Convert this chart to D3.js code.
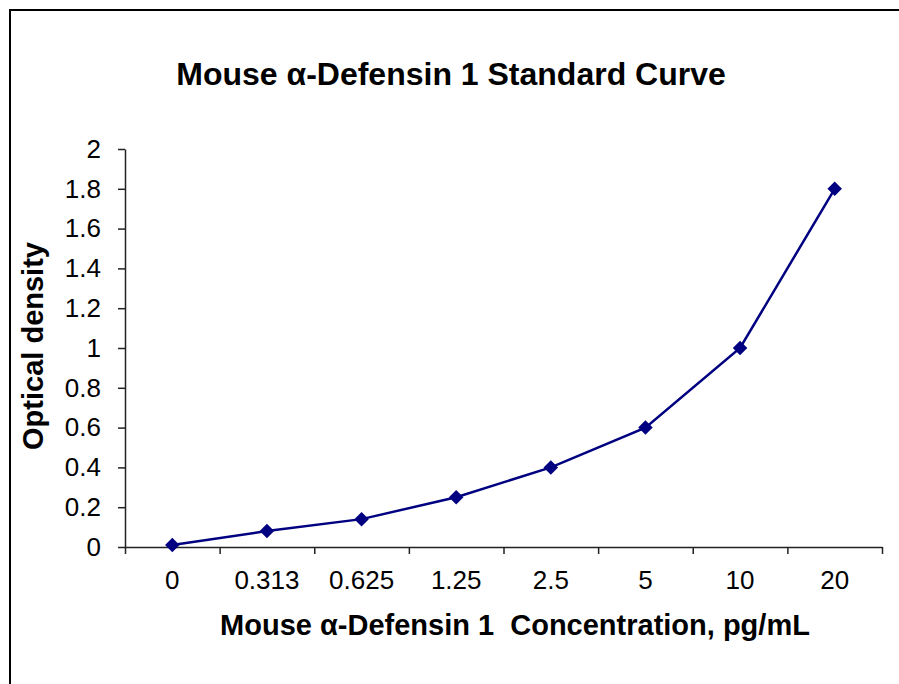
<!DOCTYPE html>
<html>
<head>
<meta charset="utf-8">
<script src="https://cdn.jsdelivr.net/npm/d3@7"></script>
<style>
  body { margin: 0; background: #fff; }
  text { font-family: "Liberation Sans", Arial, sans-serif; }
</style>
</head>
<body>
<div id="chart"></div>
<script>
const width = 899;
const height = 684;

const concentrations = ['0', '0.313', '0.625', '1.25', '2.5', '5', '10', '20'];
const opticalDensity = [0.01, 0.08, 0.14, 0.25, 0.4, 0.6, 1.0, 1.8];
const yTicks = [0, 0.2, 0.4, 0.6, 0.8, 1, 1.2, 1.4, 1.6, 1.8, 2];

const plotLeft = 125, plotRight = 882, plotTop = 149, plotBottom = 547;

const svg = d3.select('#chart')
    .append('svg')
    .attr('width', width)
    .attr('height', height);

// outer frame
svg.append('rect')
    .attr('x', 10)
    .attr('y', 10)
    .attr('width', 950)
    .attr('height', 750)
    .attr('fill', 'none')
    .attr('stroke', '#000')
    .attr('stroke-width', 2);

const xScale = d3.scaleBand()
    .domain(concentrations)
    .range([plotLeft, plotRight]);

const xEdges = d3.scaleLinear()
    .domain([0, concentrations.length])
    .range([plotLeft, plotRight]);

const yScale = d3.scaleLinear()
    .domain([0, 2])
    .range([plotBottom, plotTop]);

// x axis: boundary ticks
const xAxis = svg.append('g')
    .attr('transform', `translate(0, ${plotBottom})`)
    .call(d3.axisBottom(xEdges).tickValues(d3.range(concentrations.length + 1)).tickFormat('').tickSize(7).tickSizeOuter(0));
xAxis.select('.domain').attr('stroke', '#222').attr('stroke-width', 1.5);
xAxis.selectAll('.tick line').attr('stroke', '#222').attr('stroke-width', 1.5);

// x labels
svg.append('g')
    .attr('transform', `translate(0, ${plotBottom})`)
    .call(d3.axisBottom(xScale).tickSize(0).tickPadding(0))
    .call(g => g.select('.domain').remove())
    .selectAll('text')
    .attr('y', 42)
    .attr('dy', 0)
    .attr('fill', '#000')
    .style('font-size', '26px');

// y axis
const yAxis = svg.append('g')
    .attr('transform', `translate(${plotLeft}, 0)`)
    .call(d3.axisLeft(yScale).tickValues(yTicks).tickFormat(d3.format('')).tickSize(7).tickSizeOuter(0).tickPadding(17));
yAxis.select('.domain').attr('stroke', '#222').attr('stroke-width', 1.5);
yAxis.selectAll('.tick line').attr('stroke', '#222').attr('stroke-width', 1.5);
yAxis.selectAll('text')
    .attr('fill', '#000')
    .style('font-size', '26px');

// line
const line = d3.line()
    .x((d, i) => xScale(concentrations[i]) + xScale.bandwidth() / 2)
    .y(d => yScale(d));

svg.append('path')
    .datum(opticalDensity)
    .attr('d', line)
    .attr('fill', 'none')
    .attr('stroke', '#000080')
    .attr('stroke-width', 2.5);

svg.selectAll('.dot')
    .data(opticalDensity)
    .enter()
    .append('path')
    .attr('class', 'dot')
    .attr('d', d3.symbol(d3.symbolSquare, 105))
    .attr('transform', (d, i) => `translate(${xScale(concentrations[i]) + xScale.bandwidth() / 2}, ${yScale(d)}) rotate(45)`)
    .attr('fill', '#000080');

// titles
svg.append('text')
    .attr('x', 451)
    .attr('y', 85)
    .attr('text-anchor', 'middle')
    .style('font-size', '32px')
    .style('font-weight', 'bold')
    .text('Mouse α-Defensin 1 Standard Curve');

svg.append('text')
    .attr('x', 515)
    .attr('y', 635)
    .attr('text-anchor', 'middle')
    .style('font-size', '29px')
    .style('font-weight', 'bold')
    .style('white-space', 'pre')
    .text('Mouse α-Defensin 1  Concentration, pg/mL');

svg.append('text')
    .attr('transform', 'translate(43, 346) rotate(-90)')
    .attr('text-anchor', 'middle')
    .style('font-size', '29px')
    .style('font-weight', 'bold')
    .text('Optical density');
</script>
</body>
</html>
